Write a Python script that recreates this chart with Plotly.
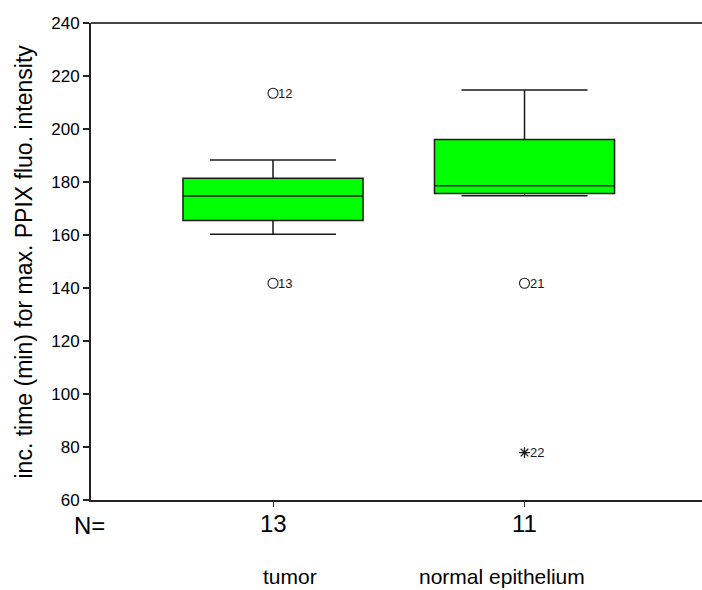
import plotly.graph_objects as go

# ---- data ----
groups = ["tumor", "normal epithelium"]
n_counts = ["13", "11"]
q1 = [165.5, 175.7]
median = [174.7, 178.6]
q3 = [181.4, 196.0]
lower_whisker = [160.3, 174.8]
upper_whisker = [188.3, 214.7]

# outliers: (group index, value, case label)
circle_outlier_group = [0, 0, 1]
circle_outlier_value = [213.5, 141.8, 141.8]
circle_outlier_label = ["12", "13", "21"]
extreme_outlier_group = [1]
extreme_outlier_value = [77.9]
extreme_outlier_label = ["22"]

y_title = "inc. time (min) for max. PPIX fluo. intensity"
FONT = "Arial, Liberation Sans, sans-serif"

X0 = -0.7237
PLOT_W = 611
XSPAN = PLOT_W / 251.5

fig = go.Figure()
for i, g in enumerate(groups):
    fig.add_trace(go.Box(
        x=[i], q1=[q1[i]], median=[median[i]], q3=[q3[i]],
        lowerfence=[lower_whisker[i]], upperfence=[upper_whisker[i]],
        boxpoints=False, width=0.716, whiskerwidth=0.7,
        fillcolor="#00FF00", line=dict(color="#1a1a1a", width=1.5),
        showlegend=False, hoverinfo="skip",
    ))

fig.add_trace(go.Scatter(
    x=circle_outlier_group, y=circle_outlier_value, mode="markers",
    marker=dict(symbol="circle-open", size=10, color="#1a1a1a", line=dict(width=1.1)),
    showlegend=False, hoverinfo="skip", cliponaxis=False,
))
fig.add_trace(go.Scatter(
    x=extreme_outlier_group, y=extreme_outlier_value, mode="markers",
    marker=dict(symbol="asterisk-open", size=9, color="#1a1a1a", line=dict(width=1.3, color="#1a1a1a")),
    showlegend=False, hoverinfo="skip", cliponaxis=False,
))

annotations = []
for gx, v, lab in zip(circle_outlier_group + extreme_outlier_group,
                      circle_outlier_value + extreme_outlier_value,
                      circle_outlier_label + extreme_outlier_label):
    annotations.append(dict(x=gx, y=v, xref="x", yref="y", text=lab, showarrow=False,
                            xanchor="left", yanchor="middle", xshift=3,
                            font=dict(family=FONT, size=13, color="#1a1a1a")))

# N row
annotations.append(dict(x=(89 - 91) / PLOT_W, y=0, xref="paper", yref="paper", text="N=",
                        showarrow=False, xanchor="center", yanchor="middle", yshift=-25,
                        font=dict(family=FONT, size=24, color="black")))
for i, n in enumerate(n_counts):
    annotations.append(dict(x=i, y=0, xref="x", yref="paper", text=n, showarrow=False,
                            xanchor="center", yanchor="middle", yshift=-23,
                            font=dict(family=FONT, size=24, color="black")))
label_shift = [17, -23]
for i, g in enumerate(groups):
    annotations.append(dict(x=i, y=0, xref="x", yref="paper", text=g, showarrow=False,
                            xanchor="center", yanchor="middle", yshift=-76, xshift=label_shift[i],
                            font=dict(family=FONT, size=21, color="black")))
annotations.append(dict(x=(23 - 91) / PLOT_W, y=0.5, xref="paper", yref="paper", text=y_title,
                        textangle=-90, showarrow=False, xanchor="center", yanchor="middle",
                        font=dict(family=FONT, size=23, color="black")))

fig.update_layout(
    width=702, height=590,
    margin=dict(l=91, r=0, t=23, b=90),
    paper_bgcolor="white", plot_bgcolor="white",
    annotations=annotations,
    shapes=[dict(type="line", xref="paper", yref="paper", x0=0, x1=1.02, y0=1, y1=1,
                 line=dict(color="#444444", width=2))],
    xaxis=dict(range=[X0, X0 + XSPAN], showgrid=False, zeroline=False,
               showline=True, linecolor="#222222", linewidth=2, mirror=False,
               tickmode="array", tickvals=[0, 1], ticktext=["", ""], ticks="outside",
               ticklen=5, tickcolor="#222222", tickwidth=1, showticklabels=False),
    yaxis=dict(range=[60, 240], dtick=20, showgrid=False, zeroline=False,
               showline=True, linecolor="#222222", linewidth=2, mirror=False,
               ticks="outside", ticklen=6, tickcolor="#222222", tickwidth=1.5,
               tickfont=dict(family=FONT, size=17, color="black")),
)

fig.write_html("out.html")
